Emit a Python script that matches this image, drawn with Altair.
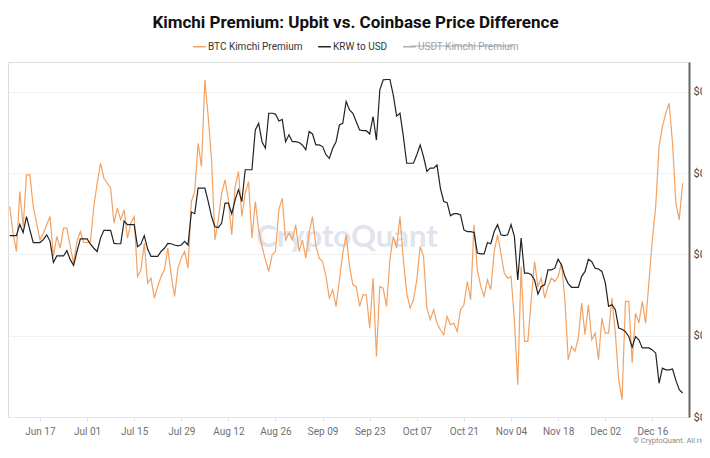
import altair as alt
import pandas as pd

START = "2024-06-08"
series_names = ["BTC Kimchi Premium", "KRW to USD", "USDT Kimchi Premium"]
series_colors = ["#f2a263", "#222222", "#a9adb5"]

# BTC kimchi premium (%), one value per day from START
btc_premium = [
    5.60, 4.80, 4.25, 6.05, 5.00, 6.55, 6.55, 5.60, 5.10, 4.60,
    4.80, 5.05, 5.30, 4.10, 4.70, 4.35, 4.95, 4.95, 4.40, 3.90,
    4.55, 4.85, 4.52, 4.52, 4.55, 5.60, 6.30, 6.90, 6.45, 6.30,
    6.15, 5.10, 5.55, 5.20, 5.50, 4.65, 5.10, 5.30, 3.50, 3.70,
    4.50, 3.30, 3.45, 2.85, 3.20, 3.50, 3.70, 4.35, 3.55, 2.90,
    3.75, 4.05, 4.25, 3.75, 5.75, 6.05, 7.50, 6.80, 9.40, 8.30,
    7.00, 4.60, 5.20, 6.00, 6.40, 5.80, 4.75, 6.20, 6.65, 5.30,
    6.00, 6.35, 4.65, 5.75, 4.90, 4.40, 4.00, 3.65, 4.15, 4.25,
    5.50, 5.85, 4.60, 4.80, 4.60, 5.05, 4.25, 4.60, 4.05, 4.80,
    5.30, 4.40, 4.05, 3.95, 3.50, 2.85, 3.10, 2.60, 3.40, 4.20,
    4.75, 3.80, 3.25, 3.20, 2.60, 2.95, 2.95, 1.95, 3.45, 1.10,
    3.20, 3.15, 2.60, 4.00, 4.70, 4.35, 5.30,
    4.00, 3.00, 2.55, 2.80, 3.40, 4.40, 4.10, 2.55, 2.20, 2.50,
    2.10, 1.90, 1.75, 2.30, 2.05, 2.10, 1.85,
    2.50, 2.65, 3.35, 2.80, 5.05, 3.70, 3.20, 2.90, 3.40, 3.10,
    4.25, 4.75, 4.20, 3.60, 3.45, 3.50, 2.20, 0.25, 3.80, 1.55,
    1.55, 2.80, 3.95, 3.20, 3.45, 2.85, 3.20, 3.45, 3.35, 3.50,
    3.90, 2.80, 1.00, 1.40,
    1.25, 1.65, 2.70, 1.75, 2.65, 1.60, 1.80, 1.00, 2.25, 1.80,
    1.80, 2.85, 1.80, 0.40, -0.20, 2.75, 2.75, 0.90, 2.40, 2.10,
    2.75, 2.10, 3.35, 4.60, 5.60, 7.40, 8.00, 8.40, 8.70, 7.50,
    5.70, 5.20, 6.30,
]

# KRW to USD, in millionths of a dollar per won, one value per day from START
krw_usd_micro = [
    724.6, 724.6, 724.6, 727.4, 725.4, 729.3, 726.0, 722.9, 722.9, 722.9,
    723.6, 724.8, 723.2, 718.0, 719.6, 719.6, 719.6, 720.9, 718.7, 717.3,
    720.7, 723.8, 723.8, 723.8, 722.5, 721.5, 720.7, 724.0, 725.9, 725.9,
    725.9, 722.7, 722.6, 722.6, 728.2, 727.3, 727.3, 727.3, 721.9, 722.5,
    724.6, 721.3, 719.5, 719.5, 719.5, 720.7, 721.5, 722.7, 722.6, 722.3,
    722.1, 722.3, 723.2, 722.3, 730.4, 730.0, 736.3, 736.3, 736.3, 733.0,
    729.3, 726.8, 726.6, 727.7, 732.6, 732.6, 730.0, 733.4, 735.9, 733.0,
    740.8, 740.8, 740.8, 750.6, 752.2, 747.7, 746.1, 754.7, 754.7, 754.5,
    752.8, 753.2, 747.7, 749.4, 747.7, 747.7, 747.5, 746.9, 745.7, 750.2,
    749.6, 746.9, 746.9, 746.5, 744.5, 743.6, 746.1, 747.7, 751.8, 752.2,
    757.6, 755.5, 754.7, 752.6, 750.6, 750.4, 750.4, 749.6, 753.9, 748.1,
    760.4, 762.9, 763.0, 763.0, 759.2, 754.0, 754.7, 749.0, 742.4, 742.4,
    742.4, 744.5, 746.9, 744.0, 740.4, 741.2, 741.2, 742.0, 736.3, 733.0,
    732.7, 729.5, 730.0, 730.0, 729.7, 726.0, 725.6, 725.6, 725.4, 720.3,
    720.1, 720.1, 722.9, 722.6, 725.6, 727.3, 724.8, 724.6, 724.8, 727.3,
    724.4, 713.7, 724.0, 715.4, 715.4, 715.0, 713.7, 710.2, 712.1, 712.5,
    716.2, 716.2, 716.6, 718.8, 717.4, 714.6, 712.8, 711.9, 711.9, 711.9,
    714.6, 715.8, 718.8, 718.2, 716.6, 716.4, 715.8, 713.1, 707.2, 707.6,
    706.4, 701.9, 701.6, 701.0, 699.8, 697.2, 699.8, 699.0, 697.0, 697.0,
    697.0, 696.5, 695.7, 688.3, 692.0, 691.6, 691.6, 691.8, 689.0, 686.7,
    685.9,
]

tick_days = [(6, 17), (7, 1), (7, 15), (7, 29), (8, 12), (8, 26), (9, 9),
             (9, 23), (10, 7), (10, 21), (11, 4), (11, 18), (12, 2), (12, 16)]
krw_ticks = [0.00068, 0.00070, 0.00072, 0.00074, 0.00076]


def day_strings(n):
    return pd.date_range(START, periods=n, freq="D").strftime("%Y-%m-%dT%H:%M:%S")


btc = pd.DataFrame({"date": day_strings(len(btc_premium)), "value": btc_premium,
                    "series": series_names[0]})
krw = pd.DataFrame({"date": day_strings(len(krw_usd_micro)),
                    "value": [v * 1e-6 for v in krw_usd_micro],
                    "series": series_names[1]})

FONT = "Roboto"

x_enc = alt.X(
    "date:T",
    scale=alt.Scale(domain=[alt.DateTime(year=2024, month=6, date=7, hours=12),
                            alt.DateTime(year=2024, month=12, date=26, hours=21, minutes=30)]),
    axis=alt.Axis(
        title=None, format="%b %d", grid=False,
        values=[alt.DateTime(year=2024, month=m, date=d) for m, d in tick_days],
        labelColor="#707070", labelFontSize=10, labelFont=FONT, labelPadding=5,
        tickColor="#e3e3e3", tickSize=4, domainColor="#e6e6e6", labelFlush=False,
    ),
)

color_enc = alt.Color(
    "series:N",
    scale=alt.Scale(domain=series_names, range=series_colors),
    legend=alt.Legend(
        title=None, orient="none", legendX=184, legendY=-23, direction="horizontal",
        symbolType="stroke", symbolSize=160, symbolStrokeWidth=1.5,
        labelFontSize=10, labelFont=FONT, labelOffset=1, columnPadding=12,
        labelColor={"expr": "datum.label == 'USDT Kimchi Premium' ? '#9ca0a8' : '#333333'"},
    ),
)

btc_line = alt.Chart(btc).mark_line(strokeWidth=1.2).encode(
    x=x_enc,
    y=alt.Y("value:Q", scale=alt.Scale(domain=[-0.72, 9.94], nice=False, zero=False), axis=None),
    color=color_enc,
)

krw_line = alt.Chart(krw).mark_line(strokeWidth=1.2).encode(
    x=x_enc,
    y=alt.Y(
        "value:Q",
        scale=alt.Scale(domain=[0.00068, 0.0007673], nice=False, zero=False),
        axis=alt.Axis(
            orient="right", title=None, values=krw_ticks, format="$.5f",
            grid=True, gridColor="#f1f1f1", ticks=False, domainColor="#666666",
            domainWidth=2, labelPadding=4, labelColor="#444444", labelFontSize=11,
            labelFont=FONT,
        ),
    ),
    color=color_enc,
)

mark_df = pd.DataFrame({"t": ["CryptoQuant"]})
watermark = alt.Chart(mark_df).mark_text(
    fontSize=31, font="Lato", fontWeight="bold", color="#e1e3ed", align="center", baseline="middle"
).encode(x=alt.value(339), y=alt.value(176), text="t:N")

copy_df = pd.DataFrame({"t": ["\u00a9 CryptoQuant. All rights reserved."]})
copyright_text = alt.Chart(copy_df).mark_text(
    fontSize=7.5, font=FONT, color="#888888", align="left", baseline="middle"
).encode(x=alt.value(625), y=alt.value(379), text="t:N")

strike = alt.Chart(mark_df).mark_rule(color="#a9adb5", strokeWidth=1).encode(
    x=alt.value(403), x2=alt.value(505), y=alt.value(-16)
)

chart = alt.layer(watermark, btc_line, krw_line, copyright_text, strike).resolve_scale(
    y="independent"
).properties(
    width=681, height=355,
    title=alt.Title("Kimchi Premium: Upbit vs. Coinbase Price Difference", fontSize=17,
                    font=FONT, fontWeight="bold", color="#111111", anchor="middle",
                    offset=7, dx=7),
    autosize=alt.AutoSizeParams(type="none"),
    padding={"left": 0, "top": 54, "right": 13, "bottom": 28},
).configure_view(stroke=None).configure(background="white")

chart.save("out.html", embed_options={"renderer": "svg", "actions": False})
